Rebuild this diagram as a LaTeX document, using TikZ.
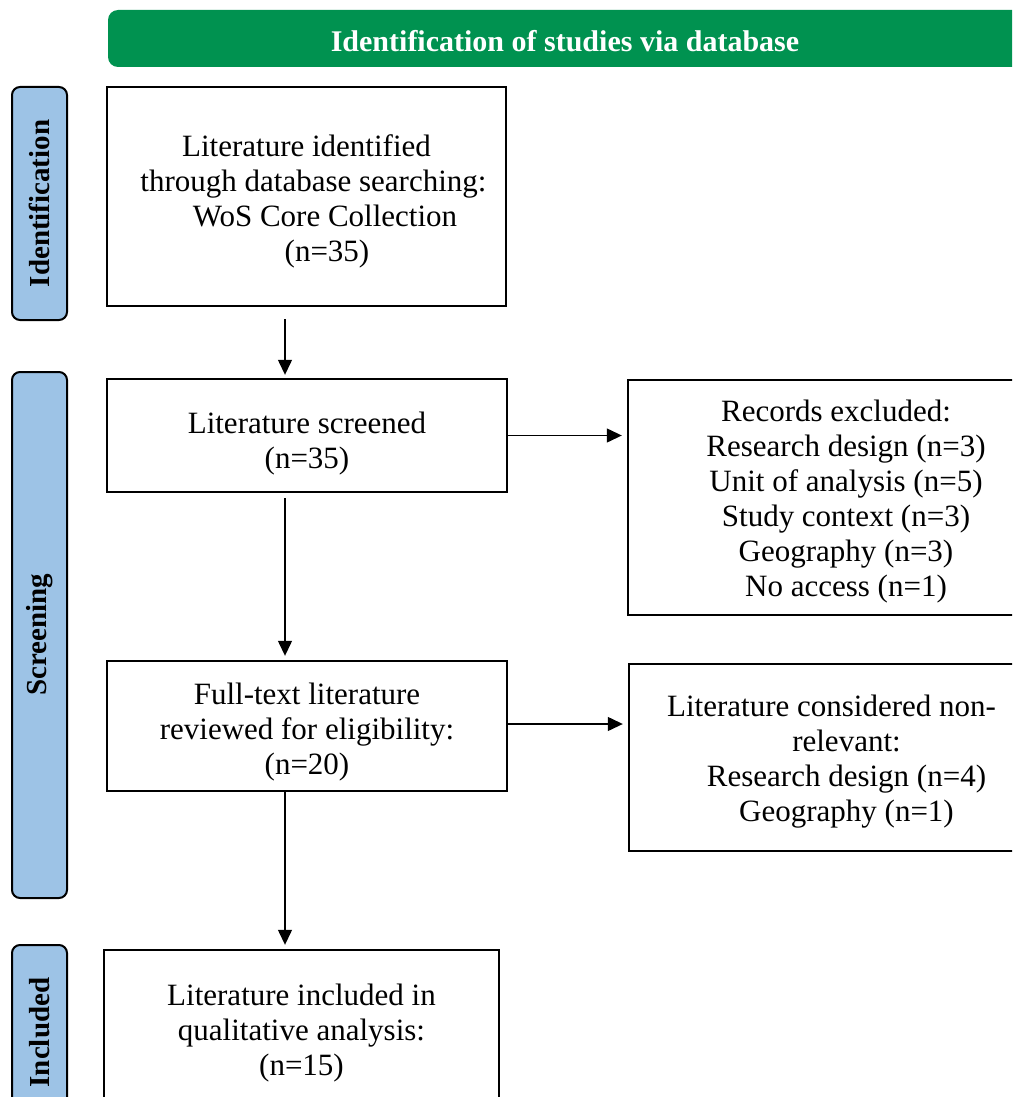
\documentclass[tikz,border=0pt]{standalone}
\usepackage{fontspec}
\setmainfont{Liberation Serif}
\usetikzlibrary{arrows.meta,calc}
\definecolor{hdrgreen}{RGB}{0,146,80}
\definecolor{sideblue}{RGB}{157,195,230}
\newcommand{\tpush}[1]{\rule{0pt}{#1}}
\begin{document}
\begin{tikzpicture}[x=1pt,y=-1pt,
  box/.style={draw=black,line width=2.4pt,fill=white,inner sep=0pt,align=center,
    font=\fontsize{31}{35}\selectfont},
  side/.style={draw=black,line width=2pt,fill=sideblue,rounded corners=8pt,inner sep=0pt,
    rotate=90,font=\fontsize{29}{33}\selectfont\bfseries},
  header/.style={fill=hdrgreen,rounded corners=10pt,inner sep=0pt,text=white,
    font=\fontsize{30}{34}\selectfont\bfseries},
  arr/.style={line width=1.3pt,-{Triangle[length=15pt,width=14pt]}}
]
\useasboundingbox (0,0) rectangle (1012,1097);
\clip (0,0) rectangle (1012,1097);
\fill[white] (0,0) rectangle (1012,1097);

% header
\node[header,minimum width=914pt,minimum height=57pt] (hdr) at (565,38.5) {\tpush{27pt}Identification of studies via database};

% side labels
\node[side,minimum width=233pt,minimum height=55pt] (sid) at (39.5,203.5) {Identification};
\node[side,minimum width=526pt,minimum height=55pt] (sscr) at (39.5,635) {Screening};
\node[side,minimum width=175pt,minimum height=55pt] (sinc) at (39.5,1032.5) {Included};

% main boxes
\node[box,minimum width=399pt,minimum height=219pt] (b1) at (306.5,196.5)
  {\tpush{31pt}Literature identified\\\hspace*{14pt}through database searching:\\\hspace*{37pt}WoS Core Collection\\\hspace*{41pt}(n=35)};
\node[box,minimum width=400pt,minimum height=113pt] (b2) at (307,435.5)
  {\tpush{37pt}Literature screened\\(n=35)};
\node[box,minimum width=400pt,minimum height=130pt] (b3) at (307,726)
  {\tpush{33pt}Full-text literature\\reviewed for eligibility:\\(n=20)};
\node[box,minimum width=395pt,minimum height=160pt] (b4) at (301.5,1030)
  {\tpush{27pt}Literature included in\\qualitative analysis:\\(n=15)};

% right boxes
\node[box,minimum width=436pt,minimum height=235pt] (r1) at (846,497.5)
  {\tpush{29pt}Records excluded:\hspace*{20pt}\\Research design (n=3)\\Unit of analysis (n=5)\\Study context (n=3)\\Geography (n=3)\\No access (n=1)};
\node[box,minimum width=435pt,minimum height=187pt] (r2) at (846.5,757.5)
  {\tpush{29pt}Literature considered non-\hspace*{30pt}\\relevant:\hspace*{30pt}\\Research design (n=4)\\Geography (n=1)};

% connectors
\draw[arr] ([xshift=-21.5pt,yshift=-12pt]b1.south) -- ([xshift=-22pt,yshift=3pt]b2.north);
\draw[arr] ([xshift=-22pt,yshift=-5pt]b2.south) -- ([xshift=-22pt,yshift=4pt]b3.north);
\draw[arr] ([xshift=-22pt]b3.south) -- ([xshift=-16.5pt,yshift=4pt]b4.north);
\draw[arr] (b2.east) -- ([xshift=-5pt]r1.west |- b2.east);
\draw[arr] ([yshift=2pt]b3.east) -- ([xshift=-5pt,yshift=2pt]r2.west |- b3.east);
\end{tikzpicture}
\end{document}
